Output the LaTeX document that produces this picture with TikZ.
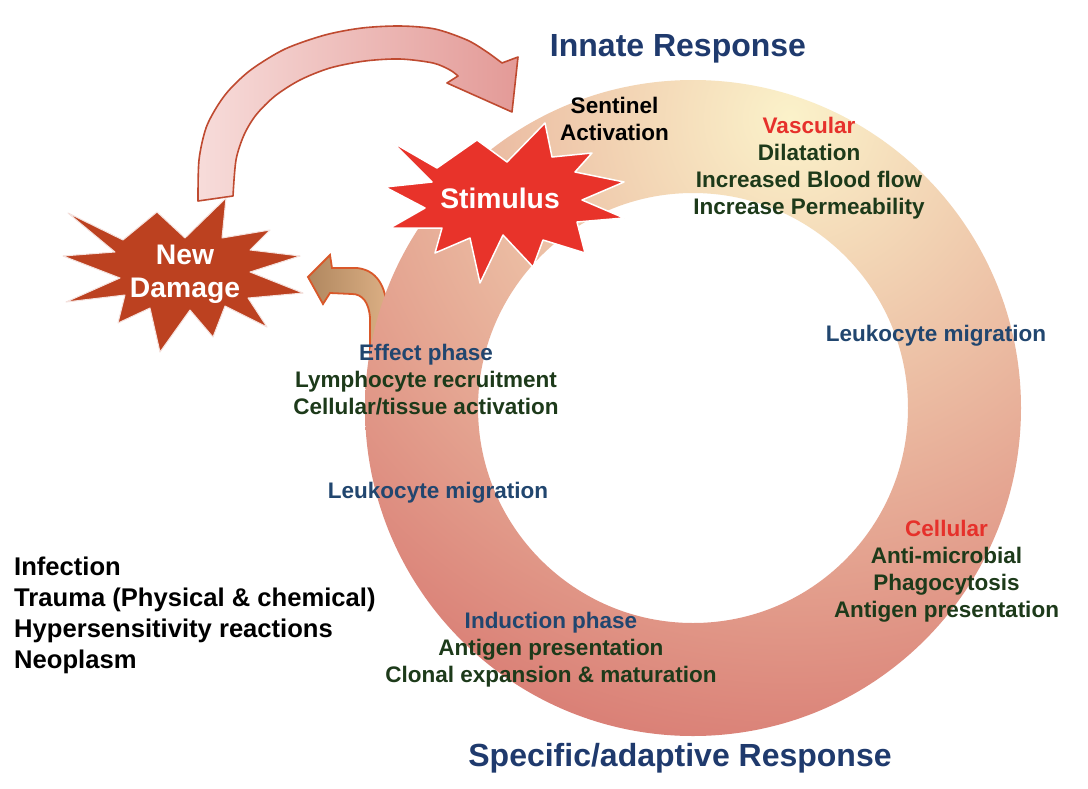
\documentclass[tikz,border=0pt]{standalone}
\usepackage{fontspec}
\setmainfont{Liberation Sans}
\usepackage{xcolor}

\definecolor{titlenavy}{HTML}{1F3A6D}
\definecolor{phaseblue}{HTML}{21466F}
\definecolor{leafgreen}{HTML}{1D3A1A}
\definecolor{alertred}{HTML}{E6312B}
\definecolor{ringlight}{HTML}{FBF2CA}
\definecolor{ringdark}{HTML}{D7766F}
\definecolor{stimred}{HTML}{E8332A}
\definecolor{damagered}{HTML}{BC4120}
\definecolor{loopPinkA}{HTML}{F7DCDA}
\definecolor{loopPinkB}{HTML}{E39A97}
\definecolor{loopEdge}{HTML}{BF4A30}
\definecolor{bentBrownA}{HTML}{B0875F}
\definecolor{bentBrownB}{HTML}{DBAF84}
\definecolor{bentEdge}{HTML}{D9582A}

\begin{document}
\begin{tikzpicture}[x=1pt,y=-1pt,line join=round,
  phase/.style={align=center,inner sep=0pt,text=leafgreen,
    font={\fontsize{22.5}{27.2}\selectfont\bfseries}},
  title/.style={inner sep=0pt,text=titlenavy,
    font={\fontsize{32}{36}\selectfont\bfseries}},
  causes/.style={align=left,inner sep=0pt,text=black,
    font={\fontsize{25.6}{31}\selectfont\bfseries}},
  starlabel/.style={align=center,inner sep=0pt,text=white,
    font={\fontsize{28.3}{33}\selectfont\bfseries}}]
\fill[white] (0,0) rectangle (1088,788);
\useasboundingbox (0,0) rectangle (1088,788);

% loop arrow from new damage back to the stimulus
\shadedraw[left color=loopPinkA,right color=loopPinkB,draw=loopEdge,line width=1.6]
  plot[smooth] coordinates {(198,201) (199,160) (206,128) (218,105) (231,88) (252,69)
    (285,49) (325,35) (362,28) (400,26) (435,29) (467,40) (487,52) (502,63)}
  -- (518,57) -- (512,112) -- (447,83)
  -- plot[smooth] coordinates {(458,76) (450,70) (433,63) (400,59) (365,61) (330,68)
    (300,80) (275,96) (256,115) (244,135) (236,160) (233,196)}
  -- cycle;

% bent arrow leaving the ring towards new damage
\shadedraw[left color=bentBrownA,right color=bentBrownB,draw=bentEdge,line width=1.8,line join=miter]
  (308,277) -- (330,255) -- (332,268) -- (357,268)
  .. controls (376,270) and (386,285) .. (387,310) -- (387,360) -- (370,360) -- (370,318)
  .. controls (369,302) and (362,294) .. (352,294) -- (330,293) -- (323,304) -- cycle;

% the response ring, glowing from the vascular side
\begin{scope}[even odd rule]
\clip (693,408) circle (328) (693,408) circle (215);
\shade[inner color=ringlight,outer color=ringdark] (790,118) circle (690);
\end{scope}

% stars
\filldraw[fill=damagered,draw=white!85!damagered,line width=1]
  (68,213) -- (123,240) -- (157,212) -- (185,238) -- (226,198) -- (222,238)
  -- (270,230) -- (250,250) -- (300,256) -- (250,272) -- (303,293) -- (248,298)
  -- (267,327) -- (225,306) -- (213,337) -- (190,310) -- (160,352) -- (150,308)
  -- (118,323) -- (125,295) -- (66,302) -- (120,278) -- (63,256) -- (115,252) -- cycle;
\filldraw[fill=stimred,draw=white,line width=1.5]
  (477,140) -- (507,162) -- (545,123) -- (552,157) -- (592,153) -- (575,172)
  -- (624,182) -- (582,200) -- (624,218) -- (577,222) -- (585,253) -- (543,240)
  -- (533,267) -- (503,235) -- (480,283) -- (470,238) -- (435,253) -- (442,228)
  -- (390,228) -- (425,208) -- (385,187) -- (432,182) -- (392,142) -- (437,168) -- cycle;
\node[starlabel,anchor=base] (stimulus) at (500,208.2) {Stimulus};
\node[starlabel,anchor=north] (damage) at (185,244.9) {New\\Damage};

% titles
\node[title,anchor=base] (innate) at (678,56.5) {Innate Response};
\node[title,anchor=base] (adaptive) at (680,766.5) {Specific/adaptive Response};

% ring labels
\node[phase,text=black,anchor=north] (sentinel) at (614.5,96.8) {Sentinel\\Activation};
\node[phase,anchor=north] (vascular) at (809,116.8)
  {\textcolor{alertred}{Vascular}\\Dilatation\\Increased Blood flow\\Increase Permeability};
\node[phase,text=phaseblue,anchor=base] (migright) at (936,341) {Leukocyte migration};
\node[phase,anchor=north] (effect) at (426,343.8)
  {\textcolor{phaseblue}{Effect phase}\\Lymphocyte recruitment\\Cellular/tissue activation};
\node[phase,text=phaseblue,anchor=base] (migleft) at (438,498) {Leukocyte migration};
\node[phase,anchor=north] (cellular) at (946.5,519.8)
  {\textcolor{alertred}{Cellular}\\Anti-microbial\\Phagocytosis\\Antigen presentation};
\node[phase,anchor=north] (induction) at (551,611.8)
  {\textcolor{phaseblue}{Induction phase}\\Antigen presentation\\Clonal expansion \& maturation};

% causes
\node[causes,anchor=north west] (causes) at (14,556.6)
  {Infection\\Trauma (Physical \& chemical)\\Hypersensitivity reactions\\Neoplasm};
\end{tikzpicture}
\end{document}
